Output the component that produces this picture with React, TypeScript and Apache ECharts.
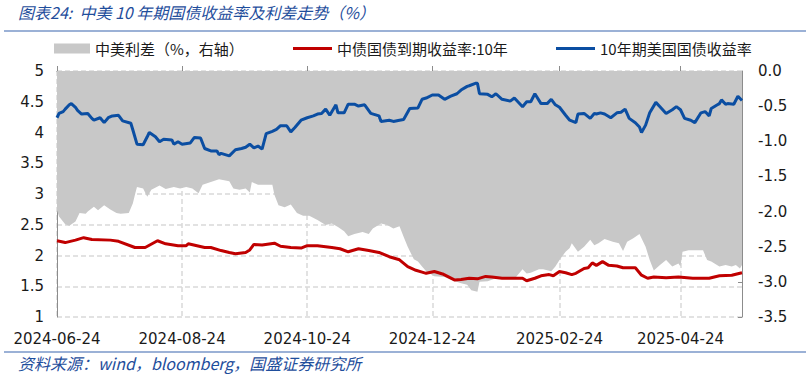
import React, { useEffect, useRef } from 'react';
import * as echarts from 'echarts';

// ---- data ----
const seriesNames = ['中美利差（%，右轴）', '中债国债到期收益率:10年', '10年期美国国债收益率'];

const usYield: [string, number][] = [
  ['2024-06-24', 4.24], ['2024-06-25', 4.31], ['2024-06-27', 4.34], ['2024-06-28', 4.38], ['2024-06-30', 4.45],
  ['2024-07-01', 4.47], ['2024-07-03', 4.41], ['2024-07-04', 4.36], ['2024-07-06', 4.30], ['2024-07-09', 4.31],
  ['2024-07-11', 4.23], ['2024-07-12', 4.20], ['2024-07-15', 4.24], ['2024-07-17', 4.16], ['2024-07-19', 4.24],
  ['2024-07-21', 4.27], ['2024-07-24', 4.28], ['2024-07-26', 4.19], ['2024-07-30', 4.15], ['2024-07-31', 4.04],
  ['2024-08-02', 3.81], ['2024-08-05', 3.80], ['2024-08-07', 3.93], ['2024-08-08', 4.00], ['2024-08-11', 3.93],
  ['2024-08-13', 3.85], ['2024-08-15', 3.89], ['2024-08-19', 3.88], ['2024-08-20', 3.81], ['2024-08-22', 3.85],
  ['2024-08-24', 3.81], ['2024-08-28', 3.83], ['2024-08-30', 3.92], ['2024-09-02', 3.91], ['2024-09-04', 3.74],
  ['2024-09-07', 3.70], ['2024-09-10', 3.70], ['2024-09-11', 3.64], ['2024-09-12', 3.66], ['2024-09-16', 3.62],
  ['2024-09-19', 3.72], ['2024-09-22', 3.74], ['2024-09-24', 3.76], ['2024-09-26', 3.81], ['2024-09-28', 3.75],
  ['2024-09-30', 3.78], ['2024-10-02', 3.73], ['2024-10-04', 3.98], ['2024-10-07', 4.02], ['2024-10-09', 4.05],
  ['2024-10-11', 4.11], ['2024-10-14', 4.11], ['2024-10-16', 4.01], ['2024-10-18', 4.08], ['2024-10-21', 4.20],
  ['2024-10-24', 4.24], ['2024-10-27', 4.27], ['2024-10-29', 4.30], ['2024-10-31', 4.31], ['2024-11-02', 4.38],
  ['2024-11-04', 4.28], ['2024-11-07', 4.45], ['2024-11-08', 4.32], ['2024-11-11', 4.32], ['2024-11-13', 4.46],
  ['2024-11-16', 4.46], ['2024-11-18', 4.43], ['2024-11-21', 4.45], ['2024-11-24', 4.31], ['2024-11-28', 4.27],
  ['2024-11-29', 4.18], ['2024-12-03', 4.20], ['2024-12-05', 4.18], ['2024-12-08', 4.20], ['2024-12-10', 4.21],
  ['2024-12-13', 4.39], ['2024-12-17', 4.40], ['2024-12-19', 4.54], ['2024-12-21', 4.56], ['2024-12-24', 4.61],
  ['2024-12-27', 4.61], ['2024-12-30', 4.54], ['2025-01-02', 4.59], ['2025-01-05', 4.63], ['2025-01-07', 4.69],
  ['2025-01-10', 4.75], ['2025-01-11', 4.76], ['2025-01-14', 4.80], ['2025-01-15', 4.80], ['2025-01-16', 4.63],
  ['2025-01-20', 4.62], ['2025-01-22', 4.58], ['2025-01-24', 4.63], ['2025-01-27', 4.54], ['2025-01-31', 4.51],
  ['2025-02-02', 4.56], ['2025-02-06', 4.42], ['2025-02-08', 4.50], ['2025-02-10', 4.50], ['2025-02-12', 4.63],
  ['2025-02-15', 4.47], ['2025-02-18', 4.47], ['2025-02-20', 4.54], ['2025-02-22', 4.45], ['2025-02-24', 4.41],
  ['2025-02-27', 4.28], ['2025-03-01', 4.20], ['2025-03-04', 4.16], ['2025-03-05', 4.30], ['2025-03-08', 4.31],
  ['2025-03-11', 4.23], ['2025-03-13', 4.31], ['2025-03-14', 4.30], ['2025-03-16', 4.32], ['2025-03-18', 4.30],
  ['2025-03-21', 4.24], ['2025-03-24', 4.32], ['2025-03-26', 4.33], ['2025-03-28', 4.38], ['2025-03-30', 4.23],
  ['2025-04-02', 4.16], ['2025-04-04', 4.09], ['2025-04-05', 4.00], ['2025-04-07', 4.12], ['2025-04-09', 4.32],
  ['2025-04-12', 4.49], ['2025-04-14', 4.42], ['2025-04-17', 4.31], ['2025-04-20', 4.37], ['2025-04-22', 4.42],
  ['2025-04-24', 4.37], ['2025-04-26', 4.23], ['2025-04-29', 4.20], ['2025-05-01', 4.16], ['2025-05-04', 4.32],
  ['2025-05-06', 4.34], ['2025-05-08', 4.27], ['2025-05-09', 4.39], ['2025-05-12', 4.45], ['2025-05-13', 4.47],
  ['2025-05-14', 4.53], ['2025-05-16', 4.46], ['2025-05-17', 4.47], ['2025-05-20', 4.46], ['2025-05-22', 4.59],
  ['2025-05-24', 4.52],
];

const cnYield: [string, number][] = [
  ['2024-06-24', 2.24], ['2024-06-28', 2.21], ['2024-07-03', 2.25], ['2024-07-07', 2.29], ['2024-07-11', 2.26],
  ['2024-07-20', 2.25], ['2024-07-24', 2.23], ['2024-08-01', 2.13], ['2024-08-06', 2.13], ['2024-08-12', 2.24],
  ['2024-08-16', 2.19], ['2024-08-22', 2.16], ['2024-08-26', 2.16], ['2024-08-27', 2.19], ['2024-09-04', 2.13],
  ['2024-09-07', 2.13], ['2024-09-12', 2.08], ['2024-09-16', 2.05], ['2024-09-19', 2.03], ['2024-09-24', 2.05],
  ['2024-09-26', 2.09], ['2024-09-28', 2.18], ['2024-10-02', 2.17], ['2024-10-08', 2.20], ['2024-10-11', 2.15],
  ['2024-10-16', 2.13], ['2024-10-21', 2.12], ['2024-10-24', 2.16], ['2024-10-29', 2.16], ['2024-11-05', 2.13],
  ['2024-11-09', 2.11], ['2024-11-13', 2.06], ['2024-11-18', 2.11], ['2024-11-23', 2.08], ['2024-11-28', 2.05],
  ['2024-12-03', 1.98], ['2024-12-08', 1.93], ['2024-12-12', 1.82], ['2024-12-16', 1.76], ['2024-12-19', 1.73],
  ['2024-12-21', 1.71], ['2024-12-25', 1.74], ['2024-12-29', 1.70], ['2025-01-04', 1.60], ['2025-01-07', 1.61],
  ['2025-01-11', 1.63], ['2025-01-15', 1.62], ['2025-01-19', 1.66], ['2025-01-22', 1.65], ['2025-01-27', 1.63],
  ['2025-02-02', 1.63], ['2025-02-06', 1.63], ['2025-02-08', 1.59], ['2025-02-12', 1.63], ['2025-02-15', 1.67],
  ['2025-02-19', 1.69], ['2025-02-21', 1.67], ['2025-02-24', 1.74], ['2025-02-27', 1.72], ['2025-03-02', 1.69],
  ['2025-03-04', 1.71], ['2025-03-08', 1.79], ['2025-03-10', 1.80], ['2025-03-12', 1.88], ['2025-03-14', 1.84],
  ['2025-03-17', 1.90], ['2025-03-20', 1.84], ['2025-03-24', 1.83], ['2025-03-27', 1.80], ['2025-04-02', 1.80],
  ['2025-04-05', 1.68], ['2025-04-08', 1.63], ['2025-04-11', 1.65], ['2025-04-17', 1.64], ['2025-04-23', 1.65],
  ['2025-04-30', 1.63], ['2025-05-08', 1.63], ['2025-05-13', 1.67], ['2025-05-19', 1.68], ['2025-05-24', 1.72],
];

const spread: [string, number][] = [
  ['2024-06-24', -1.98], ['2024-06-25', -2.07], ['2024-06-28', -2.18], ['2024-06-30', -2.20], ['2024-07-03', -2.14],
  ['2024-07-05', -2.02], ['2024-07-08', -2.03], ['2024-07-09', -2.00], ['2024-07-12', -1.93], ['2024-07-14', -1.98],
  ['2024-07-17', -1.91], ['2024-07-20', -1.97], ['2024-07-23', -2.02], ['2024-07-25', -2.03], ['2024-07-29', -2.02],
  ['2024-07-31', -1.88], ['2024-08-01', -1.76], ['2024-08-02', -1.65], ['2024-08-05', -1.67], ['2024-08-07', -1.79],
  ['2024-08-09', -1.69], ['2024-08-13', -1.63], ['2024-08-16', -1.68], ['2024-08-20', -1.65], ['2024-08-23', -1.67],
  ['2024-08-26', -1.65], ['2024-08-29', -1.67], ['2024-09-01', -1.74], ['2024-09-03', -1.62], ['2024-09-07', -1.58],
  ['2024-09-11', -1.54], ['2024-09-16', -1.57], ['2024-09-18', -1.67], ['2024-09-21', -1.69], ['2024-09-24', -1.67],
  ['2024-09-26', -1.73], ['2024-09-27', -1.58], ['2024-09-30', -1.62], ['2024-10-05', -1.62], ['2024-10-07', -1.62],
  ['2024-10-08', -1.76], ['2024-10-10', -1.91], ['2024-10-13', -1.94], ['2024-10-16', -1.90], ['2024-10-19', -2.02],
  ['2024-10-22', -2.06], ['2024-10-25', -2.06], ['2024-10-29', -2.12], ['2024-11-02', -2.19], ['2024-11-05', -2.17],
  ['2024-11-08', -2.22], ['2024-11-11', -2.28], ['2024-11-13', -2.35], ['2024-11-16', -2.32], ['2024-11-20', -2.29],
  ['2024-11-23', -2.32], ['2024-11-25', -2.24], ['2024-11-29', -2.17], ['2024-12-02', -2.19], ['2024-12-05', -2.24],
  ['2024-12-08', -2.21], ['2024-12-10', -2.36], ['2024-12-12', -2.50], ['2024-12-15', -2.68], ['2024-12-17', -2.71],
  ['2024-12-19', -2.78], ['2024-12-21', -2.85], ['2024-12-25', -2.92], ['2024-12-30', -2.93], ['2025-01-03', -2.98],
  ['2025-01-07', -3.02], ['2025-01-10', -3.04], ['2025-01-12', -3.12], ['2025-01-15', -3.14], ['2025-01-16', -3.00],
  ['2025-01-20', -2.99], ['2025-01-24', -2.95], ['2025-01-29', -2.95], ['2025-02-02', -2.96], ['2025-02-06', -2.82],
  ['2025-02-08', -2.88], ['2025-02-10', -2.87], ['2025-02-14', -2.82], ['2025-02-16', -2.82], ['2025-02-20', -2.85],
  ['2025-02-22', -2.78], ['2025-02-24', -2.69], ['2025-02-27', -2.57], ['2025-03-01', -2.52], ['2025-03-02', -2.45],
  ['2025-03-05', -2.57], ['2025-03-08', -2.50], ['2025-03-11', -2.40], ['2025-03-13', -2.48], ['2025-03-15', -2.45],
  ['2025-03-18', -2.39], ['2025-03-22', -2.43], ['2025-03-25', -2.45], ['2025-03-27', -2.56], ['2025-03-29', -2.43],
  ['2025-04-01', -2.38], ['2025-04-04', -2.32], ['2025-04-07', -2.50], ['2025-04-09', -2.69], ['2025-04-11', -2.84],
  ['2025-04-14', -2.76], ['2025-04-17', -2.69], ['2025-04-20', -2.78], ['2025-04-23', -2.74], ['2025-04-24', -2.78],
  ['2025-04-25', -2.57], ['2025-04-28', -2.55], ['2025-05-01', -2.55], ['2025-05-05', -2.55], ['2025-05-07', -2.69],
  ['2025-05-09', -2.71], ['2025-05-13', -2.78], ['2025-05-16', -2.76], ['2025-05-19', -2.78], ['2025-05-21', -2.76],
  ['2025-05-23', -2.81], ['2025-05-24', -2.76],
];

const xTickDates = ['2024-06-24', '2024-08-24', '2024-10-24', '2024-12-24', '2025-02-24', '2025-04-24'];
const xRange = ['2024-06-24', '2025-05-24'];
const leftAxisRange = [1, 5, 0.5];
const rightAxisRange = [-3.5, 0, 0.5];

const titleText = '图表24:  中美 10 年期国债收益率及利差走势（%）';
const sourceText = '资料来源：wind，bloomberg，国盛证券研究所';

// ---- helpers ----
function toTs(s: string): number {
  const [y, m, d] = s.split('-').map(Number);
  return new Date(y, m - 1, d).getTime();
}
const toPoints = (arr: [string, number][]) => arr.map(([d, v]) => [toTs(d), v]);
const pad2 = (n: number) => (n < 10 ? '0' + n : '' + n);
function fmtDate(ts: number): string {
  const dt = new Date(ts);
  return `${dt.getFullYear()}-${pad2(dt.getMonth() + 1)}-${pad2(dt.getDate())}`;
}

const AXIS_COLOR = '#8c8c8c';
const GRID_COLOR = '#d9d9d9';
const TEXT_COLOR = '#1a1a1a';
const BLUE_TEXT = '#1f4e9c';
const LABEL_FONT = 'DejaVu Sans';
const CJK_FONT = 'Noto Sans CJK SC';

export default function App() {
  const ref = useRef<HTMLDivElement>(null);

  useEffect(() => {
    if (!ref.current) return;
    const chart = echarts.init(ref.current, undefined, { renderer: 'svg' });
    const tickTs = xTickDates.map(toTs);

    const legendBase = {
      top: 41,
      padding: 0,
      itemGap: 0,
      icon: 'rect',
      textStyle: { fontSize: 15, fontFamily: CJK_FONT, color: TEXT_COLOR },
      selectedMode: false,
    };

    chart.setOption({
      animation: false,
      backgroundColor: '#ffffff',
      grid: { left: 57, right: 69, top: 71, bottom: 62, containLabel: false },
      legend: [
        { ...legendBase, left: 54, data: [seriesNames[0]], itemWidth: 36, itemHeight: 10 },
        { ...legendBase, left: 293, data: [seriesNames[1]], itemWidth: 39, itemHeight: 3 },
        { ...legendBase, left: 556, data: [seriesNames[2]], itemWidth: 39, itemHeight: 3 },
      ],
      xAxis: {
        type: 'value',
        min: toTs(xRange[0]),
        max: toTs(xRange[1]),
        axisLine: { show: true, lineStyle: { color: AXIS_COLOR, width: 1 } },
        axisTick: {
          show: true,
          inside: true,
          length: 5,
          customValues: tickTs,
          lineStyle: { color: AXIS_COLOR },
        },
        axisLabel: {
          customValues: tickTs,
          margin: 14,
          fontSize: 15,
          fontFamily: LABEL_FONT,
          color: TEXT_COLOR,
          formatter: (v: number) => fmtDate(v),
        },
        splitLine: { show: true, lineStyle: { color: GRID_COLOR, type: [5, 3], width: 1.5 } },
      },
      yAxis: [
        {
          type: 'value',
          min: leftAxisRange[0],
          max: leftAxisRange[1],
          interval: leftAxisRange[2],
          position: 'left',
          axisLine: { show: true, lineStyle: { color: AXIS_COLOR, width: 1 } },
          axisTick: { show: false },
          axisLabel: { margin: 13, fontSize: 15, fontFamily: LABEL_FONT, color: TEXT_COLOR },
          splitLine: { show: true, lineStyle: { color: GRID_COLOR, type: [5, 3], width: 1.5 } },
        },
        {
          type: 'value',
          min: rightAxisRange[0],
          max: rightAxisRange[1],
          interval: rightAxisRange[2],
          position: 'right',
          axisLine: { show: true, lineStyle: { color: AXIS_COLOR, width: 1 } },
          axisTick: { show: true, inside: true, length: 4, lineStyle: { color: AXIS_COLOR } },
          axisLabel: {
            margin: 16,
            fontSize: 15,
            fontFamily: LABEL_FONT,
            color: TEXT_COLOR,
            formatter: (v: number) => v.toFixed(1),
          },
          splitLine: { show: false },
        },
      ],
      series: [
        {
          name: seriesNames[0],
          type: 'line',
          yAxisIndex: 1,
          data: toPoints(spread),
          showSymbol: false,
          symbol: 'none',
          lineStyle: { width: 0, color: '#c8c8c8' },
          itemStyle: { color: '#c8c8c8' },
          areaStyle: { color: '#c8c8c8', opacity: 1 },
          z: 1,
        },
        {
          name: seriesNames[1],
          type: 'line',
          yAxisIndex: 0,
          data: toPoints(cnYield),
          showSymbol: false,
          symbol: 'none',
          lineStyle: { width: 3, color: '#c00000' },
          itemStyle: { color: '#c00000' },
          z: 3,
        },
        {
          name: seriesNames[2],
          type: 'line',
          yAxisIndex: 0,
          data: toPoints(usYield),
          showSymbol: false,
          symbol: 'none',
          lineStyle: { width: 3, color: '#0b4ea2' },
          itemStyle: { color: '#0b4ea2' },
          z: 4,
        },
      ],
      graphic: [
        {
          type: 'text',
          left: 18,
          top: 4,
          style: { text: titleText, font: `italic 16px "${CJK_FONT}"`, fill: BLUE_TEXT },
        },
        {
          type: 'line',
          shape: { x1: 4, y1: 31, x2: 806, y2: 31 },
          style: { stroke: '#7a97c9', lineWidth: 1.5 },
        },
        {
          type: 'line',
          shape: { x1: 4, y1: 352, x2: 806, y2: 352 },
          style: { stroke: '#7a97c9', lineWidth: 1.5 },
        },
        {
          type: 'text',
          left: 18,
          top: 355,
          style: { text: sourceText, font: `italic 16px "${CJK_FONT}"`, fill: BLUE_TEXT },
        },
      ],
    });

    return () => chart.dispose();
  }, []);

  return (
    <div
      ref={ref}
      style={{ position: 'fixed', left: 0, top: 0, width: 811, height: 379, background: '#fff' }}
    />
  );
}
